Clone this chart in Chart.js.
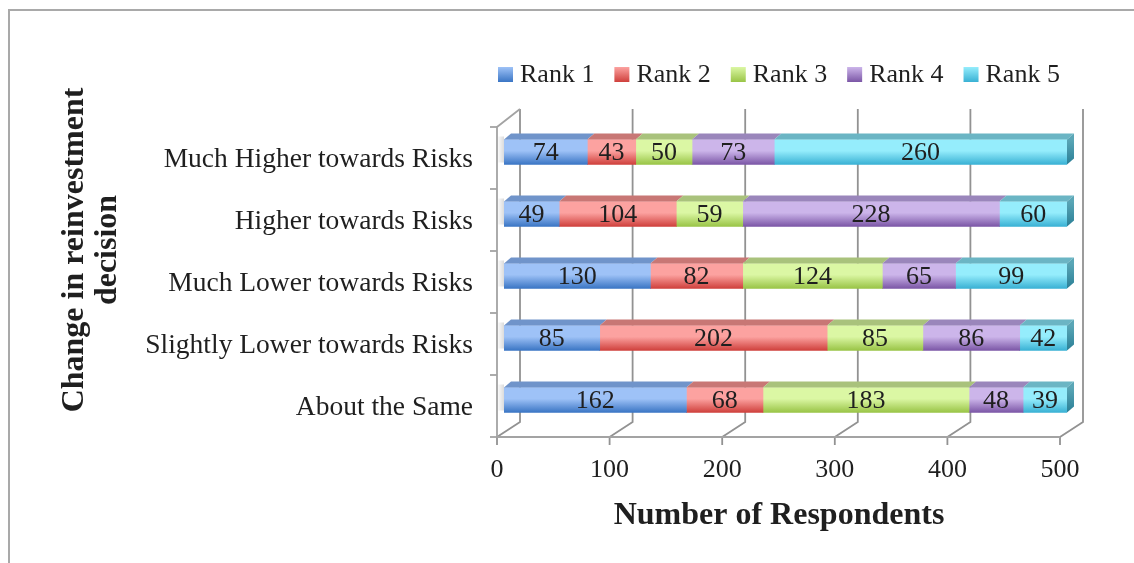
<!DOCTYPE html>
<html>
<head>
<meta charset="utf-8">
<script src="https://cdn.jsdelivr.net/npm/chart.js@4.4.0/dist/chart.umd.min.js"></script>
<style>
  html, body { margin: 0; padding: 0; background: #fff; }
  #wrap { position: relative; width: 1134px; height: 563px; }
</style>
</head>
<body>
<div id="wrap"><canvas id="chart" width="1134" height="563"></canvas></div>
<script>
// data
const categories = [
  'Much Higher towards Risks',
  'Higher towards Risks',
  'Much Lower towards Risks',
  'Slightly Lower towards Risks',
  'About the Same'
];
const rank1 = [74, 49, 130, 85, 162];
const rank2 = [43, 104, 82, 202, 68];
const rank3 = [50, 59, 124, 85, 183];
const rank4 = [73, 228, 65, 86, 48];
const rank5 = [260, 60, 99, 42, 39];
const seriesNames = ['Rank 1', 'Rank 2', 'Rank 3', 'Rank 4', 'Rank 5'];
const xTicks = [0, 100, 200, 300, 400, 500];
const xTitle = 'Number of Respondents';
const yTitle = ['Change in reinvestment', 'decision'];

const FONT = "'Liberation Serif', 'Times New Roman', serif";
const TEXT = '#1f1f1f';
const BAR = 25;          // bar thickness
const CAP_DX = 7, CAP_DY = 6;   // depth of bar top face

// top / bottom of each bar gradient, plus the shaded top face
const palette = [
  { top: '#9ec2f7', bottom: '#3a75c4', cap: '#7094ca' },
  { top: '#fca2a0', bottom: '#cf403c', cap: '#c87775' },
  { top: '#dbf7a4', bottom: '#99c446', cap: '#a9c27c' },
  { top: '#ccb5ea', bottom: '#7b56a6', cap: '#9a86bb' },
  { top: '#95edfc', bottom: '#39b1d4', cap: '#6bb5c4' }
];

function barFill(i) {
  return (ctx) => {
    const chart = ctx.chart;
    const y = chart.scales.y;
    if (!y || !chart.chartArea) return palette[i].bottom;
    const c = y.getPixelForValue(ctx.dataIndex);
    const g = chart.ctx.createLinearGradient(0, c - BAR / 2, 0, c + BAR / 2);
    g.addColorStop(0, palette[i].top);
    g.addColorStop(0.45, palette[i].top);
    g.addColorStop(1, palette[i].bottom);
    return g;
  };
}

// walls, floor, gridlines, legend, titles and the 3D bar faces
const frame3d = {
  id: 'frame3d',
  beforeDraw(chart) {
    const { ctx, chartArea: ca, scales: { x } } = chart;
    const fx = v => x.getPixelForValue(v) - 7;
    const bx = v => x.getPixelForValue(v) + 16;
    const fTop = ca.top + 6, fBot = ca.bottom + 6;
    const bTop = ca.top - 12, bBot = ca.bottom - 9;

    ctx.save();
    // outer frame (cut off at right and bottom)
    ctx.strokeStyle = '#a9a9a9';
    ctx.lineWidth = 2;
    ctx.beginPath();
    ctx.moveTo(9, 563); ctx.lineTo(9, 10); ctx.lineTo(1134, 10);
    ctx.stroke();

    // back gridlines running into the floor
    ctx.strokeStyle = '#929292';
    ctx.lineWidth = 1.8;
    xTicks.forEach(v => {
      ctx.beginPath();
      ctx.moveTo(bx(v), bTop);
      ctx.lineTo(bx(v), bBot);
      ctx.lineTo(fx(v), fBot);
      ctx.lineTo(fx(v), fBot + 8);
      ctx.stroke();
    });
    // floor front edge
    ctx.strokeStyle = '#a3a3a3';
    ctx.beginPath();
    ctx.moveTo(fx(0), fBot); ctx.lineTo(fx(500), fBot);
    ctx.stroke();
    // left wall
    ctx.beginPath();
    ctx.moveTo(bx(0), bTop); ctx.lineTo(fx(0), fTop); ctx.lineTo(fx(0), fBot);
    ctx.stroke();
    // category ticks on the left wall
    for (let i = 0; i <= categories.length; i++) {
      const yy = fTop + i * (fBot - fTop) / categories.length;
      ctx.beginPath();
      ctx.moveTo(fx(0) - 7, yy); ctx.lineTo(fx(0), yy);
      ctx.stroke();
    }

    // legend
    ctx.font = '26px ' + FONT;
    ctx.textBaseline = 'middle';
    ctx.textAlign = 'left';
    let lx = 498;
    const ly = 75;
    chart.data.datasets.forEach((ds, i) => {
      const g = ctx.createLinearGradient(0, ly - 8, 0, ly + 7);
      g.addColorStop(0, palette[i].top);
      g.addColorStop(1, palette[i].bottom);
      ctx.fillStyle = g;
      ctx.fillRect(lx, ly - 8, 15, 15);
      ctx.fillStyle = TEXT;
      ctx.fillText(ds.label, lx + 22, ly);
      lx += 22 + ctx.measureText(ds.label).width + 20;
    });

    // axis titles
    ctx.font = 'bold 32px ' + FONT;
    ctx.fillStyle = TEXT;
    ctx.textAlign = 'center';
    ctx.fillText(xTitle, 779, 516);
    ctx.save();
    ctx.translate(75, 250);
    ctx.rotate(-Math.PI / 2);
    yTitle.forEach((t, i) => ctx.fillText(t, 0, i * 33));
    ctx.restore();
    ctx.restore();
  },
  afterDatasetsDraw(chart) {
    const { ctx } = chart;
    const n = chart.data.datasets.length;
    ctx.save();
    // soft shadow of each bar on the left wall
    const m0 = chart.getDatasetMeta(0);
    m0.data.forEach(el => {
      const g = ctx.createLinearGradient(el.base - 7, 0, el.base, 0);
      g.addColorStop(0, 'rgba(0,0,0,0)');
      g.addColorStop(1, 'rgba(0,0,0,0.14)');
      ctx.fillStyle = g;
      ctx.fillRect(el.base - 6, el.y - BAR / 2 - 3, 6, BAR + 1);
    });
    for (let d = 0; d < n; d++) {
      const meta = chart.getDatasetMeta(d);
      meta.data.forEach(el => {
        const l = Math.min(el.base, el.x), r = Math.max(el.base, el.x);
        const t = el.y - BAR / 2;
        ctx.fillStyle = palette[d].cap;
        ctx.beginPath();
        ctx.moveTo(l, t); ctx.lineTo(r, t);
        ctx.lineTo(r + CAP_DX, t - CAP_DY); ctx.lineTo(l + CAP_DX, t - CAP_DY);
        ctx.closePath();
        ctx.fill();
        if (d === n - 1) {
          const g = ctx.createLinearGradient(0, t, 0, t + BAR);
          g.addColorStop(0, '#5aa6b6');
          g.addColorStop(1, '#2a7f96');
          ctx.fillStyle = g;
          ctx.beginPath();
          ctx.moveTo(r, t); ctx.lineTo(r + CAP_DX, t - CAP_DY);
          ctx.lineTo(r + CAP_DX, t - CAP_DY + BAR); ctx.lineTo(r, t + BAR);
          ctx.closePath();
          ctx.fill();
        }
      });
    }
    // value labels
    ctx.font = '26px ' + FONT;
    ctx.fillStyle = TEXT;
    ctx.textAlign = 'center';
    ctx.textBaseline = 'middle';
    for (let d = 0; d < n; d++) {
      const meta = chart.getDatasetMeta(d);
      const vals = chart.data.datasets[d].data;
      meta.data.forEach((el, i) => {
        ctx.fillText(String(vals[i]), (el.x + el.base) / 2, el.y + 1);
      });
    }
    ctx.restore();
  }
};

const seriesData = [rank1, rank2, rank3, rank4, rank5];

new Chart(document.getElementById('chart'), {
  type: 'bar',
  data: {
    labels: categories,
    datasets: seriesData.map((vals, i) => ({
      label: seriesNames[i],
      data: vals,
      backgroundColor: barFill(i),
      borderWidth: 0,
      barThickness: BAR
    }))
  },
  options: {
    indexAxis: 'y',
    responsive: false,
    animation: false,
    devicePixelRatio: 1,
    layout: { padding: { left: 0, top: 121, right: 67, bottom: 0 } },
    scales: {
      x: {
        stacked: true,
        min: 0,
        max: 500,
        afterBuildTicks: s => { s.ticks = xTicks.map(v => ({ value: v })); },
        afterFit: s => { s.height = 132; },
        grid: { display: false, drawTicks: false },
        border: { display: false },
        ticks: { padding: 24, labelOffset: -7, color: TEXT, font: { family: FONT, size: 26 } }
      },
      y: {
        stacked: true,
        afterFit: s => { s.width = 504; },
        grid: { display: false, drawTicks: false },
        border: { display: false },
        ticks: { padding: 31, labelOffset: 8, color: TEXT, font: { family: FONT, size: 27.5 } }
      }
    },
    plugins: {
      legend: { display: false },
      tooltip: { enabled: false }
    }
  },
  plugins: [frame3d]
});
</script>
</body>
</html>
